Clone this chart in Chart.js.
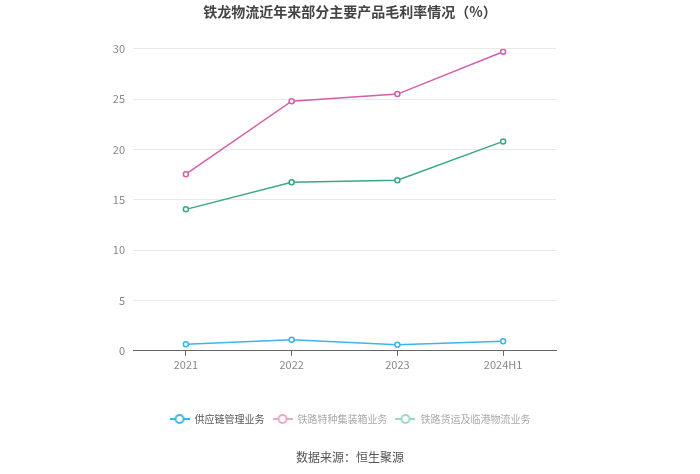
<!DOCTYPE html>
<html>
<head>
<meta charset="utf-8">
<script src="https://cdn.jsdelivr.net/npm/chart.js@4"></script>
<style>
  html, body { margin: 0; padding: 0; background: #fff; }
  #wrap { width: 700px; height: 474px; position: relative; }
</style>
</head>
<body>
<div id="wrap"><canvas id="marginChart"></canvas></div>
<script>
// data
const years = ['2021', '2022', '2023', '2024H1'];
const supplyChain = [0.65, 1.1, 0.6, 0.95];      // 供应链管理业务
const specialContainer = [17.55, 24.8, 25.5, 29.7]; // 铁路特种集装箱业务
const freightPort = [14.05, 16.75, 16.95, 20.8];  // 铁路货运及临港物流业务
const yTicks = [0, 5, 10, 15, 20, 25, 30];

const names = ['供应链管理业务', '铁路特种集装箱业务', '铁路货运及临港物流业务'];
const colors = ['#3db5e8', '#d45fa8', '#3aa886'];
const legendColors = ['#3db5e8', '#e6a8cc', '#9ed6c6'];
const legendText = ['#555', '#aaa', '#aaa'];
const cjk = '"Noto Sans CJK SC", "Noto Sans", sans-serif';

// little line + circle icon for the legend
function legendIcon(color) {
    const c = document.createElement('canvas');
    c.width = 20; c.height = 12;
    const g = c.getContext('2d');
    g.strokeStyle = color;
    g.lineWidth = 2;
    g.beginPath(); g.moveTo(0, 6); g.lineTo(20, 6); g.stroke();
    g.fillStyle = '#fff';
    g.beginPath(); g.arc(10, 6, 4, 0, Math.PI * 2); g.fill(); g.stroke();
    return c;
}
const icons = legendColors.map(legendIcon);

function makeSet(i, values) {
    return {
        label: names[i],
        data: values,
        borderColor: colors[i],
        backgroundColor: '#fff',
        borderWidth: 1.5,
        pointRadius: 2.5,
        pointBorderWidth: 1.5,
        pointBackgroundColor: '#fff',
        pointBorderColor: colors[i],
        tension: 0,
        fill: false
    };
}

// source line under the legend
const sourceNote = {
    id: 'sourceNote',
    afterDraw(chart) {
        const g = chart.ctx;
        g.save();
        g.font = '12px ' + cjk;
        g.fillStyle = '#555';
        g.textAlign = 'center';
        g.textBaseline = 'middle';
        g.fillText('数据来源：恒生聚源', chart.width / 2, 457);
        g.restore();
    }
};

const ctx = document.getElementById('marginChart').getContext('2d');
let myChart = new Chart(ctx, {
    type: 'line',
    data: {
        labels: years,
        datasets: [makeSet(0, supplyChain), makeSet(1, specialContainer), makeSet(2, freightPort)]
    },
    options: {
        responsive: true,
        maintainAspectRatio: false,
        animation: false,
        layout: { padding: { left: 0, right: 0, top: 0, bottom: 40 } },
        plugins: {
            title: {
                display: true,
                text: '铁龙物流近年来部分主要产品毛利率情况（%）',
                color: '#444',
                font: { family: cjk, size: 14, weight: 'bold' },
                padding: { top: 3, bottom: 29 }
            },
            legend: {
                position: 'bottom',
                labels: {
                    usePointStyle: true,
                    pointStyleWidth: 20,
                    padding: 8,
                    font: { family: cjk, size: 10 },
                    generateLabels(chart) {
                        return chart.data.datasets.map((ds, i) => ({
                            text: ds.label,
                            pointStyle: icons[i],
                            fontColor: legendText[i],
                            fillStyle: colors[i],
                            strokeStyle: colors[i],
                            lineWidth: 0,
                            hidden: false,
                            datasetIndex: i
                        }));
                    }
                }
            },
            tooltip: { enabled: false }
        },
        scales: {
            x: {
                offset: true,
                grid: { display: true, drawOnChartArea: false, drawTicks: true, tickLength: 5, color: '#666' },
                border: { display: true, color: '#666' },
                ticks: { color: '#888', font: { family: cjk, size: 11 }, padding: 2 },
                // leave a gap between the axis labels and the legend
                afterFit(scale) { scale.height += 33; }
            },
            y: {
                min: 0,
                max: 30,
                afterBuildTicks(scale) { scale.ticks = yTicks.map(v => ({ value: v })); },
                grid: { color: '#e8e8e8', drawTicks: false },
                border: { display: false },
                ticks: { color: '#888', font: { family: cjk, size: 11 }, padding: 8 },
                afterFit(scale) { scale.width = 133; }
            },
            // empty right axis, only there to keep the right margin
            yRight: {
                position: 'right',
                grid: { display: false },
                border: { display: false },
                ticks: { display: false },
                afterFit(scale) { scale.width = 144; }
            }
        }
    },
    plugins: [sourceNote]
});
</script>
</body>
</html>
